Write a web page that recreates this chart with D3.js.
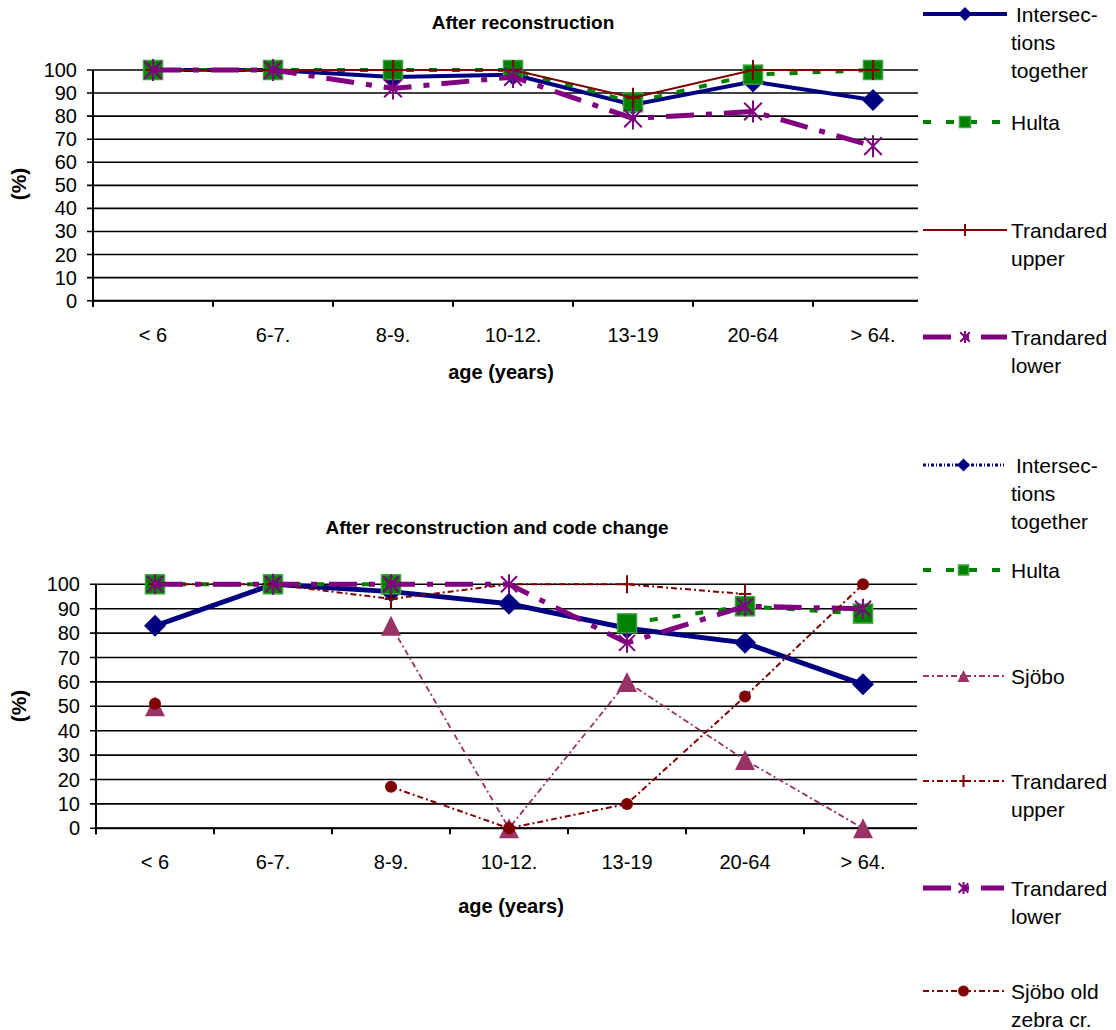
<!DOCTYPE html>
<html>
<head>
<meta charset="utf-8">
<script src="https://d3js.org/d3.v7.min.js"></script>
<style>
  body { margin: 0; background: #fff; }
  text { font-family: "Liberation Sans", Arial, sans-serif; fill: #000; }
</style>
</head>
<body>
<div id="svg"></div>
<script>
// age groups on the x axis
var categories = ["< 6", "6-7.", "8-9.", "10-12.", "13-19", "20-64", "> 64."];
var yTicks = [0, 10, 20, 30, 40, 50, 60, 70, 80, 90, 100];

// upper chart: after reconstruction
var topIntersections = [100, 100, 97, 98, 85, 95, 87];
var topHulta = [100, 100, 100, 100, 86, 98, 100];
var topTrandaredUpper = [100, 100, 100, 100, 88, 100, 100];
var topTrandaredLower = [100, 100, 92, 97, 79, 82, 67];

// lower chart: after reconstruction and code change
var botIntersections = [83, 100, 97, 92, 82, 76, 59];
var botHulta = [100, 100, 100, null, 84, 91, 88];
var botSjobo = [50, null, 83, 0, 60, 28, 0];
var botTrandaredUpper = [100, 100, 94, 100, 100, 96, null];
var botTrandaredLower = [100, 100, 100, 100, 76, 91, 90];
var botSjoboOld = [51, null, 17, 0, 10, 54, 100];

var width = 1116;
var height = 1030;

var svg = d3.select("#svg").append("svg")
    .attr("width", width)
    .attr("height", height);

// marker shapes
function drawMarker(g, type, x, y, s, color) {
  var h = s / 2;
  if (type == "diamond") {
    g.append("path")
      .attr("d", "M" + x + "," + (y - h) + "L" + (x + h) + "," + y + "L" + x + "," + (y + h) + "L" + (x - h) + "," + y + "Z")
      .attr("fill", color);
  } else if (type == "square") {
    g.append("rect")
      .attr("x", x - h).attr("y", y - h)
      .attr("width", s).attr("height", s)
      .attr("fill", color)
      .attr("stroke", "#3fa33f").attr("stroke-width", 1.5);
  } else if (type == "plus") {
    g.append("path")
      .attr("d", "M" + (x - h * 0.7) + "," + y + "H" + (x + h * 0.7) + "M" + x + "," + (y - h) + "V" + (y + h))
      .attr("stroke", color).attr("stroke-width", 2).attr("fill", "none");
  } else if (type == "star") {
    var r = h;
    var d = "M" + (x - r * 0.8) + "," + (y - r * 0.8) + "L" + (x + r * 0.8) + "," + (y + r * 0.8) +
            "M" + (x + r * 0.8) + "," + (y - r * 0.8) + "L" + (x - r * 0.8) + "," + (y + r * 0.8) +
            "M" + x + "," + (y - r) + "V" + (y + r);
    g.append("path").attr("d", d)
      .attr("stroke", color).attr("stroke-width", 2).attr("fill", "none");
  } else if (type == "triangle") {
    g.append("path")
      .attr("d", "M" + x + "," + (y - h) + "L" + (x + h) + "," + (y + h) + "L" + (x - h) + "," + (y + h) + "Z")
      .attr("fill", color);
  } else if (type == "circle") {
    g.append("circle").attr("cx", x).attr("cy", y).attr("r", h).attr("fill", color);
  }
}

function drawChart(cfg) {
  var x = d3.scaleBand().domain(categories).range([cfg.left, cfg.right]);
  var y = d3.scaleLinear().domain([0, 100]).range([cfg.bottom, cfg.top]);
  var g = svg.append("g");

  // gridlines (cut where the legend box starts)
  g.selectAll(".grid")
    .data(yTicks)
    .enter().append("line")
      .attr("x1", cfg.left - 6)
      .attr("x2", cfg.clip)
      .attr("y1", function(d) { return y(d); })
      .attr("y2", function(d) { return y(d); })
      .attr("stroke", "#000").attr("stroke-width", 1.6);

  g.selectAll(".ylab")
    .data(yTicks)
    .enter().append("text")
      .attr("x", cfg.left - 16)
      .attr("y", function(d) { return y(d) + 7; })
      .attr("text-anchor", "end")
      .style("font-size", "20px")
      .text(function(d) { return d; });

  g.append("line")
    .attr("x1", cfg.left).attr("x2", cfg.left)
    .attr("y1", cfg.top).attr("y2", cfg.bottom + 6)
    .attr("stroke", "#000").attr("stroke-width", 2);

  g.append("line")
    .attr("x1", cfg.left).attr("x2", cfg.clip)
    .attr("y1", cfg.bottom).attr("y2", cfg.bottom)
    .attr("stroke", "#000").attr("stroke-width", 2);

  g.selectAll(".xtick")
    .data(categories)
    .enter().append("line")
      .attr("x1", function(d) { return x(d); })
      .attr("x2", function(d) { return x(d); })
      .attr("y1", cfg.bottom).attr("y2", cfg.bottom + 6)
      .attr("stroke", "#000").attr("stroke-width", 2);

  g.selectAll(".xlab")
    .data(categories)
    .enter().append("text")
      .attr("x", function(d) { return x(d) + x.bandwidth() / 2; })
      .attr("y", cfg.bottom + 41)
      .attr("text-anchor", "middle")
      .style("font-size", "20px")
      .text(function(d) { return d; });

  g.append("text")
    .attr("x", cfg.titleX).attr("y", cfg.titleY)
    .attr("text-anchor", "middle")
    .style("font-size", "19px").style("font-weight", "bold")
    .text(cfg.title);

  g.append("text")
    .attr("x", cfg.xTitleX).attr("y", cfg.xTitleY)
    .attr("text-anchor", "middle")
    .style("font-size", "20px").style("font-weight", "bold")
    .text("age (years)");

  g.append("text")
    .attr("transform", "translate(26," + cfg.yTitleY + ") rotate(-90)")
    .attr("text-anchor", "middle")
    .style("font-size", "21px").style("font-weight", "bold")
    .text("(%)");

  // series, in legend order so later ones sit on top
  cfg.series.forEach(function(s) {
    var line = d3.line()
      .defined(function(d) { return d != null; })
      .x(function(d, i) { return x(categories[i]) + x.bandwidth() / 2; })
      .y(function(d) { return y(d); });

    g.append("path")
      .datum(s.values)
      .attr("d", line)
      .attr("fill", "none")
      .attr("stroke", s.color)
      .attr("stroke-width", s.width)
      .attr("stroke-dasharray", s.dash);

    s.values.forEach(function(v, i) {
      if (v == null) return;
      drawMarker(g, s.marker, x(categories[i]) + x.bandwidth() / 2, y(v), s.size, s.color);
    });
  });

  // legend box covers the right end of the plot
  var lg = svg.append("g");
  lg.append("rect")
    .attr("x", cfg.clip).attr("y", cfg.legendTop)
    .attr("width", width - cfg.clip).attr("height", cfg.legendHeight)
    .attr("fill", "#fff");

  cfg.series.forEach(function(s, i) {
    var it = cfg.legend[i];
    lg.append("line")
      .attr("x1", cfg.legendX1).attr("x2", cfg.legendX2)
      .attr("y1", it.y).attr("y2", it.y)
      .attr("stroke", s.color)
      .attr("stroke-width", s.legendWidth || s.width)
      .attr("stroke-dasharray", s.legendDash || s.dash);
    drawMarker(lg, s.marker, (cfg.legendX1 + cfg.legendX2) / 2, it.y, s.legendSize, s.color);

    lg.selectAll(null)
      .data(s.label)
      .enter().append("text")
        .attr("x", function(d, j) { return cfg.legendTextX + (j == 0 && s.label.length == 3 ? 5 : 0); })
        .attr("y", function(d, j) { return it.y + 8 + j * 28; })
        .style("font-size", "21px")
        .text(function(d) { return d; });
  });
}

var navyDash = "3,2,1,2";

drawChart({
  left: 93, right: 933, clip: 918, top: 70, bottom: 300.7,
  title: "After reconstruction", titleX: 523, titleY: 29,
  xTitleX: 501, xTitleY: 379, yTitleY: 184,
  legendTop: 0, legendHeight: 392,
  legendX1: 923, legendX2: 1007, legendTextX: 1011,
  legend: [{ y: 14 }, { y: 122 }, { y: 230 }, { y: 337 }],
  series: [
    { values: topIntersections, color: "#000080", width: 4, dash: null, marker: "diamond", size: 22, legendSize: 14,
      label: ["Intersec-", "tions", "together"] },
    { values: topHulta, color: "#008000", width: 4, dash: "8,15", marker: "square", size: 19, legendSize: 11,
      label: ["Hulta"] },
    { values: topTrandaredUpper, color: "#800000", width: 2, dash: null, marker: "plus", size: 20, legendSize: 12,
      label: ["Trandared", "upper"] },
    { values: topTrandaredLower, color: "#800080", width: 5, dash: "28,12,6,12", marker: "star", size: 22, legendSize: 12,
      label: ["Trandared", "lower"] }
  ]
});

drawChart({
  left: 96, right: 922, clip: 917, top: 584.3, bottom: 828.3,
  title: "After reconstruction and code change", titleX: 497, titleY: 534,
  xTitleX: 511, xTitleY: 913, yTitleY: 706,
  legendTop: 440, legendHeight: 590,
  legendX1: 923, legendX2: 1004, legendTextX: 1011,
  legend: [{ y: 465 }, { y: 570 }, { y: 676 }, { y: 781 }, { y: 888 }, { y: 991 }],
  series: [
    { values: botIntersections, color: "#000080", width: 5, dash: null, marker: "diamond", size: 22, legendSize: 13,
      legendWidth: 3, legendDash: navyDash, label: ["Intersec-", "tions", "together"] },
    { values: botHulta, color: "#008000", width: 4, dash: "8,15", marker: "square", size: 19, legendSize: 10,
      label: ["Hulta"] },
    { values: botSjobo, color: "#993366", width: 1.8, dash: "6,3,2,3", marker: "triangle", size: 20, legendSize: 12,
      label: ["Sjöbo"] },
    { values: botTrandaredUpper, color: "#800000", width: 2, dash: "6,3,2,3", marker: "plus", size: 18, legendSize: 12,
      label: ["Trandared", "upper"] },
    { values: botTrandaredLower, color: "#800080", width: 5, dash: "28,12,6,12", marker: "star", size: 20, legendSize: 12,
      label: ["Trandared", "lower"] },
    { values: botSjoboOld, color: "#800000", width: 2, dash: "6,3,2,3", marker: "circle", size: 12, legendSize: 11,
      label: ["Sjöbo old", "zebra cr."] }
  ]
});
</script>
</body>
</html>
